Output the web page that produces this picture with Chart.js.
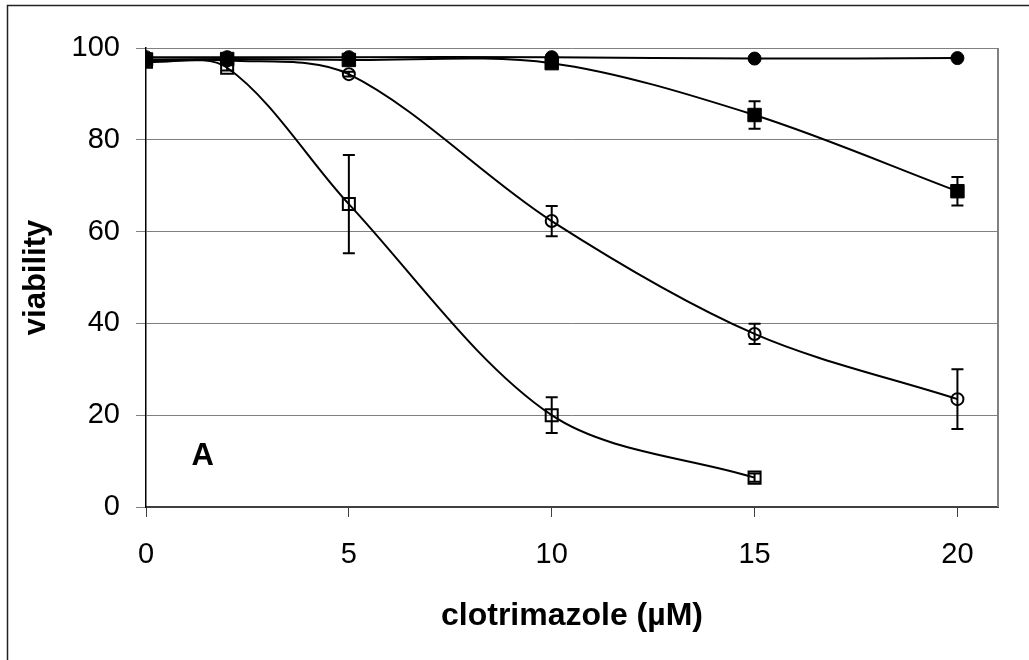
<!DOCTYPE html>
<html>
<head>
<meta charset="utf-8">
<script src="https://cdn.jsdelivr.net/npm/chart.js@4/dist/chart.umd.min.js"></script>
<style>
  html, body { margin: 0; padding: 0; background: #fff; }
  canvas { display: block; }
</style>
</head>
<body>
<canvas id="viability-chart" width="1029" height="660"></canvas>
<script>
// Chart data
const concentrations = [0, 2, 5, 10, 15, 20];
const xTickValues = [0, 5, 10, 15, 20];

const filledCircleValues = [98.0, 98.0, 98.0, 98.0, 97.7, 97.8];
const filledCircleErrors = [0, 0, 0, 0, 0, 0];

const filledSquareValues = [97.5, 97.6, 97.4, 96.7, 85.4, 68.8];
const filledSquareErrors = [0, 0, 0, 0.6, 3.0, 3.1];

const openCircleValues = [97.2, 97.3, 94.3, 62.3, 37.7, 23.5];
const openCircleErrors = [0, 0, 0.5, 3.3, 2.2, 6.5];

const openSquareValues = [97.0, 95.7, 66.0, 20.0, 6.4];
const openSquareErrors = [0, 0.6, 10.7, 3.9, 0.9];

const panelLabel = 'A';
const FONT = '"Liberation Sans", Arial, sans-serif';

function toPoints(values) {
    return values.map((v, i) => ({ x: concentrations[i], y: v }));
}

function makeSeries(values, errors, style) {
    return Object.assign({
        data: toPoints(values),
        errors: errors,
        showLine: true,
        borderColor: '#000',
        borderWidth: 2,
        tension: 0.32,
        pointBorderColor: '#000',
        pointBorderWidth: 2
    }, style);
}

// --- Plugins ---
const framePlugin = {
    id: 'frame',
    beforeDraw(chart) {
        const ctx = chart.ctx;
        ctx.save();
        ctx.fillStyle = '#fff';
        ctx.fillRect(0, 0, chart.width, chart.height);
        ctx.strokeStyle = '#222';
        ctx.lineWidth = 1.5;
        ctx.beginPath();
        ctx.moveTo(7.5, chart.height);
        ctx.lineTo(7.5, 5.5);
        ctx.lineTo(chart.width, 5.5);
        ctx.stroke();
        ctx.restore();
    },
    afterDraw(chart) {
        const { ctx, chartArea } = chart;
        ctx.save();
        ctx.strokeStyle = '#808080';
        ctx.lineWidth = 2;
        ctx.beginPath();
        ctx.moveTo(chartArea.right, chartArea.top);
        ctx.lineTo(chartArea.right, chartArea.bottom);
        ctx.stroke();
        // panel letter
        const xs = chart.scales.x, ys = chart.scales.y;
        ctx.fillStyle = '#000';
        ctx.font = 'bold 31px ' + FONT;
        ctx.textAlign = 'center';
        ctx.textBaseline = 'middle';
        ctx.fillText(panelLabel, xs.getPixelForValue(1.4), ys.getPixelForValue(11));
        ctx.restore();
    }
};

const errorBarPlugin = {
    id: 'errorBars',
    afterDatasetsDraw(chart) {
        const ctx = chart.ctx;
        const xs = chart.scales.x, ys = chart.scales.y;
        ctx.save();
        ctx.strokeStyle = '#000';
        ctx.lineWidth = 2;
        chart.data.datasets.forEach(ds => {
            ds.data.forEach((p, i) => {
                const err = ds.errors[i];
                if (!err) return;
                const x = xs.getPixelForValue(p.x);
                const yTop = ys.getPixelForValue(p.y + err);
                const yBot = ys.getPixelForValue(p.y - err);
                ctx.beginPath();
                ctx.moveTo(x, yTop);
                ctx.lineTo(x, yBot);
                ctx.moveTo(x - 6, yTop);
                ctx.lineTo(x + 6, yTop);
                ctx.moveTo(x - 6, yBot);
                ctx.lineTo(x + 6, yBot);
                ctx.stroke();
            });
        });
        ctx.restore();
    }
};

new Chart(document.getElementById('viability-chart'), {
    type: 'scatter',
    data: {
        datasets: [
            makeSeries(filledCircleValues, filledCircleErrors, {
                pointStyle: 'circle', pointRadius: 6.5, pointBackgroundColor: '#000', pointBorderWidth: 1
            }),
            makeSeries(filledSquareValues, filledSquareErrors, {
                pointStyle: 'rect', pointRadius: 9.5, pointBackgroundColor: '#000', pointBorderWidth: 1
            }),
            makeSeries(openCircleValues, openCircleErrors, {
                pointStyle: 'circle', pointRadius: 6, pointBackgroundColor: 'rgba(0,0,0,0)'
            }),
            makeSeries(openSquareValues, openSquareErrors, {
                pointStyle: 'rect', pointRadius: 8.5, pointBackgroundColor: 'rgba(0,0,0,0)'
            })
        ]
    },
    options: {
        responsive: false,
        animation: false,
        layout: { padding: { left: 0, top: 48, right: 31, bottom: 0 } },
        plugins: { legend: { display: false }, tooltip: { enabled: false } },
        scales: {
            x: {
                type: 'linear',
                min: 0,
                max: 21,
                afterBuildTicks: (scale) => {
                    scale.ticks = xTickValues.map(v => ({ value: v }));
                },
                afterFit: (scale) => { scale.height = 153; },
                grid: { drawOnChartArea: false, color: '#404040', tickLength: 10, tickWidth: 1 },
                border: { color: '#404040', width: 2 },
                ticks: { color: '#000', font: { family: FONT, size: 29 }, padding: 21, maxRotation: 0 },
                title: {
                    display: true,
                    text: 'clotrimazole (\u00b5M)',
                    color: '#000',
                    font: { family: FONT, size: 32, weight: 'bold' },
                    padding: { top: 0, bottom: 25 }
                }
            },
            y: {
                min: 0,
                max: 100,
                afterFit: (scale) => { scale.width = 146; },
                ticks: { stepSize: 20, color: '#000', font: { family: FONT, size: 29 }, padding: 16 },
                grid: { color: '#808080', lineWidth: 1, tickLength: 10 },
                border: { color: '#000', width: 1.5 },
                title: {
                    display: true,
                    text: 'viability',
                    color: '#000',
                    font: { family: FONT, size: 31, weight: 'bold' },
                    padding: { top: 18, bottom: 0 }
                }
            }
        }
    },
    plugins: [framePlugin, errorBarPlugin]
});
</script>
</body>
</html>
